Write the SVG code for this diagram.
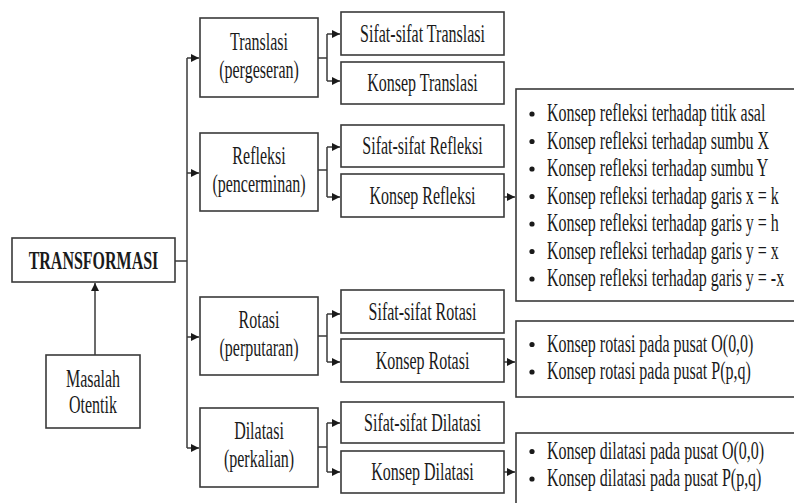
<svg xmlns="http://www.w3.org/2000/svg" width="794" height="503" viewBox="0 0 794 503">
<defs>
<style>
.box{fill:#fff;stroke:#3a3a3a;stroke-width:1.6}
.ln{fill:none;stroke:#3a3a3a;stroke-width:1.5}
.t{font-family:"Liberation Serif","Times New Roman",serif;font-size:16px;fill:#1a1a1a}
.c{text-anchor:middle}
.b{font-weight:bold}
.dot{fill:#1a1a1a}
</style>
<marker id="ah" markerUnits="userSpaceOnUse" markerWidth="9" markerHeight="8" refX="8" refY="4" orient="auto">
<path d="M0,0 L8,4 L0,8 z" fill="#1a1a1a"/>
</marker>
</defs>
<rect width="794" height="503" fill="#fff"/>

<g id="connectors">
<line class="ln" x1="175" y1="261" x2="187" y2="261"/>
<line class="ln" x1="187" y1="58" x2="187" y2="448"/>
<line class="ln" x1="187" y1="58" x2="199" y2="58" marker-end="url(#ah)"/>
<line class="ln" x1="187" y1="173" x2="199" y2="173" marker-end="url(#ah)"/>
<line class="ln" x1="187" y1="337" x2="199" y2="337" marker-end="url(#ah)"/>
<line class="ln" x1="187" y1="448" x2="199" y2="448" marker-end="url(#ah)"/>
<line class="ln" x1="95" y1="355" x2="95" y2="283" marker-end="url(#ah)"/>

<path class="ln" d="M318,58 H327 M327,34 V81"/>
<line class="ln" x1="327" y1="34" x2="340" y2="34" marker-end="url(#ah)"/>
<line class="ln" x1="327" y1="81" x2="340" y2="81" marker-end="url(#ah)"/>

<path class="ln" d="M318,170 H327 M327,147 V197"/>
<line class="ln" x1="327" y1="147" x2="340" y2="147" marker-end="url(#ah)"/>
<line class="ln" x1="327" y1="197" x2="340" y2="197" marker-end="url(#ah)"/>

<path class="ln" d="M318,336 H327 M327,314 V362"/>
<line class="ln" x1="327" y1="314" x2="340" y2="314" marker-end="url(#ah)"/>
<line class="ln" x1="327" y1="362" x2="340" y2="362" marker-end="url(#ah)"/>

<path class="ln" d="M318,447 H327 M327,423 V472"/>
<line class="ln" x1="327" y1="423" x2="340" y2="423" marker-end="url(#ah)"/>
<line class="ln" x1="327" y1="472" x2="340" y2="472" marker-end="url(#ah)"/>

<line class="ln" x1="504" y1="197" x2="515" y2="197" marker-end="url(#ah)"/>
<line class="ln" x1="504" y1="362" x2="515" y2="362" marker-end="url(#ah)"/>
<line class="ln" x1="504" y1="472" x2="515" y2="472" marker-end="url(#ah)"/>
</g>

<g id="transformasi">
<rect class="box" x="12" y="238" width="163" height="44"/>
<text class="t c b" transform="translate(93.5,269) scale(1,1.6)">TRANSFORMASI</text>
</g>
<g id="masalah">
<rect class="box" x="46" y="355" width="94" height="73"/>
<text class="t c" transform="translate(93,387) scale(1,1.6)">Masalah</text>
<text class="t c" transform="translate(93,413) scale(1,1.6)">Otentik</text>
</g>

<g id="translasi">
<rect class="box" x="200" y="18" width="118" height="79"/>
<text class="t c" transform="translate(259,50) scale(1,1.6)">Translasi</text>
<text class="t c" transform="translate(259,78) scale(1,1.6)">(pergeseran)</text>
</g>
<g id="refleksi">
<rect class="box" x="200" y="133" width="118" height="78"/>
<text class="t c" transform="translate(259,164) scale(1,1.6)">Refleksi</text>
<text class="t c" transform="translate(259,192) scale(1,1.6)">(pencerminan)</text>
</g>
<g id="rotasi">
<rect class="box" x="200" y="297" width="118" height="78"/>
<text class="t c" transform="translate(259,328) scale(1,1.6)">Rotasi</text>
<text class="t c" transform="translate(259,356) scale(1,1.6)">(perputaran)</text>
</g>
<g id="dilatasi">
<rect class="box" x="200" y="408" width="118" height="79"/>
<text class="t c" transform="translate(259,439) scale(1,1.6)">Dilatasi</text>
<text class="t c" transform="translate(259,467) scale(1,1.6)">(perkalian)</text>
</g>

<g id="sifat-translasi">
<rect class="box" x="341" y="12" width="163" height="43"/>
<text class="t c" transform="translate(422.5,41.5) scale(1,1.6)">Sifat-sifat Translasi</text>
</g>
<g id="konsep-translasi">
<rect class="box" x="341" y="62" width="163" height="42"/>
<text class="t c" transform="translate(422.5,90.5) scale(1,1.6)">Konsep Translasi</text>
</g>
<g id="sifat-refleksi">
<rect class="box" x="341" y="125" width="163" height="42"/>
<text class="t c" transform="translate(422.5,154) scale(1,1.6)">Sifat-sifat Refleksi</text>
</g>
<g id="konsep-refleksi">
<rect class="box" x="341" y="174" width="163" height="43"/>
<text class="t c" transform="translate(422.5,203.5) scale(1,1.6)">Konsep Refleksi</text>
</g>
<g id="sifat-rotasi">
<rect class="box" x="341" y="290" width="163" height="43"/>
<text class="t c" transform="translate(422.5,319.5) scale(1,1.6)">Sifat-sifat Rotasi</text>
</g>
<g id="konsep-rotasi">
<rect class="box" x="341" y="339" width="163" height="43"/>
<text class="t c" transform="translate(422.5,368.5) scale(1,1.6)">Konsep Rotasi</text>
</g>
<g id="sifat-dilatasi">
<rect class="box" x="341" y="402" width="163" height="41"/>
<text class="t c" transform="translate(422.5,430.5) scale(1,1.6)">Sifat-sifat Dilatasi</text>
</g>
<g id="konsep-dilatasi">
<rect class="box" x="341" y="451" width="163" height="42"/>
<text class="t c" transform="translate(422.5,480) scale(1,1.6)">Konsep Dilatasi</text>
</g>

<g id="list-refleksi">
<rect class="box" x="516" y="89" width="290" height="212"/>
<circle class="dot" cx="532" cy="114" r="2.6"/>
<circle class="dot" cx="532" cy="141.5" r="2.6"/>
<circle class="dot" cx="532" cy="169" r="2.6"/>
<circle class="dot" cx="532" cy="196.5" r="2.6"/>
<circle class="dot" cx="532" cy="224" r="2.6"/>
<circle class="dot" cx="532" cy="251.5" r="2.6"/>
<circle class="dot" cx="532" cy="279" r="2.6"/>
<text class="t" transform="translate(547,121) scale(1,1.6)">Konsep refleksi terhadap titik asal</text>
<text class="t" transform="translate(547,148.5) scale(1,1.6)">Konsep refleksi terhadap sumbu X</text>
<text class="t" transform="translate(547,176) scale(1,1.6)">Konsep refleksi terhadap sumbu Y</text>
<text class="t" transform="translate(547,203.5) scale(1,1.6)">Konsep refleksi terhadap garis x = k</text>
<text class="t" transform="translate(547,231) scale(1,1.6)">Konsep refleksi terhadap garis y = h</text>
<text class="t" transform="translate(547,258.5) scale(1,1.6)">Konsep refleksi terhadap garis y = x</text>
<text class="t" transform="translate(547,286) scale(1,1.6)">Konsep refleksi terhadap garis y = -x</text>
</g>

<g id="list-rotasi">
<rect class="box" x="516" y="321" width="290" height="76"/>
<circle class="dot" cx="532" cy="344.5" r="2.6"/>
<circle class="dot" cx="532" cy="372" r="2.6"/>
<text class="t" transform="translate(547,351.5) scale(1,1.6)">Konsep rotasi pada pusat O(0,0)</text>
<text class="t" transform="translate(547,379) scale(1,1.6)">Konsep rotasi pada pusat P(p,q)</text>
</g>

<g id="list-dilatasi">
<rect class="box" x="516" y="433" width="290" height="80"/>
<circle class="dot" cx="532" cy="451.5" r="2.6"/>
<circle class="dot" cx="532" cy="479" r="2.6"/>
<text class="t" transform="translate(547,458.5) scale(1,1.6)">Konsep dilatasi pada pusat O(0,0)</text>
<text class="t" transform="translate(547,486) scale(1,1.6)">Konsep dilatasi pada pusat P(p,q)</text>
</g>
</svg>
